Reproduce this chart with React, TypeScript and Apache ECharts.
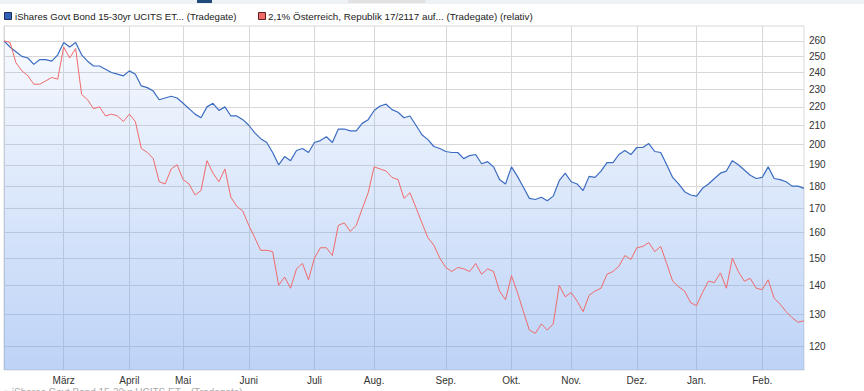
import React, { useEffect, useRef } from 'react';
import * as echarts from 'echarts';

// Month labels (first partial month has no label) and number of sampled trading days per month
const monthLabels = ['', 'März', 'April', 'Mai', 'Juni', 'Juli', 'Aug.', 'Sep.', 'Okt.', 'Nov.', 'Dez.', 'Jan.', 'Feb.'];
const pointsPerMonth = [10, 11, 9, 11, 11, 10, 12, 11, 10, 11, 10, 11, 8];

const yTicks = [120, 130, 140, 150, 160, 170, 180, 190, 200, 210, 220, 230, 240, 250, 260];

const etfName = 'iShares Govt Bond 15-30yr UCITS ET... (Tradegate)';
const bondName = '2,1% Österreich, Republik 17/2117 auf... (Tradegate) (relativ)';

const etfValues = [
  260, 256, 253, 250, 249, 245, 248, 248, 247, 251,
  259, 256, 259, 251, 247, 244, 244, 242, 240, 239, 238,
  241, 239, 232, 231, 229, 224, 225, 226, 225,
  222, 219, 216, 214, 220, 222, 218, 220, 215, 215, 213,
  210, 206, 203, 201, 196, 190, 194, 192, 197, 198, 196,
  201, 202, 204, 201, 208, 208, 207, 207, 211, 213,
  218, 220.5, 221.5, 218.5, 217, 214, 215, 210, 205, 202.5, 199, 198,
  196.5, 196, 196, 193, 194.5, 195, 190.5, 191.5, 189, 183, 181,
  189, 184.5, 179.5, 174.5, 174, 175, 173.5, 175.5, 182.5, 186,
  182, 181, 178, 184.5, 184, 187, 191, 191, 195, 197, 195,
  198.5, 198.5, 200.5, 196.5, 196, 190, 184, 181, 177.5, 176,
  175.5, 179, 181, 183.5, 186, 187, 192, 190, 187.5, 185, 183.5,
  184, 189, 183.5, 183, 182, 180, 180, 179,
];

const bondValues = [
  260, 259, 246, 241, 238, 233, 233, 235, 237, 236,
  256, 249, 255, 227, 224, 219, 220, 215, 216, 215, 212,
  216, 212, 198, 196, 193, 182, 181, 188, 190,
  183, 181, 176, 178, 192, 186, 182, 188, 175, 171, 169,
  163, 158, 153, 153, 152.5, 140, 143, 139, 146, 148, 142,
  150, 154, 154, 151, 163, 164, 160.5, 163, 170, 177,
  189, 188, 187, 184, 183, 174.5, 177, 170.5, 164, 158, 155, 150,
  146.5, 145, 146.5, 146, 145, 148, 144, 146, 145, 138, 135,
  143.5, 137.5, 131, 125, 124, 127, 125, 127, 140, 136,
  137.5, 134.5, 131, 136.5, 138, 139, 144, 145, 147, 151, 149.5,
  154, 154.5, 156, 152.5, 154.5, 148, 141.5, 139.5, 138, 134,
  133, 137.5, 141.5, 141, 144.5, 139, 150, 145, 141.5, 142.5, 139,
  138.5, 142, 135.5, 133.5, 131, 129, 127.5, 128,
];

const FONT = 'Liberation Sans';

export default function App() {
  const ref = useRef<HTMLDivElement>(null);

  useEffect(() => {
    if (!ref.current) return;
    const chart = echarts.init(ref.current, null, { renderer: 'svg' });

    const categories: string[] = [];
    monthLabels.forEach((m, mi) => {
      for (let k = 0; k < pointsPerMonth[mi]; k++) categories.push(`${m}#${k}`);
    });
    const isMonthStart = (_i: number, v: string) => v.endsWith('#0');
    const isLabeled = (_i: number, v: string) => v.endsWith('#0') && !v.startsWith('#');

    chart.setOption({
      animation: false,
      grid: {
        left: 4,
        right: 60,
        top: 26,
        bottom: 21,
        show: true,
        borderColor: '#d9d9d9',
        borderWidth: 1,
        backgroundColor: 'transparent',
      },
      xAxis: {
        type: 'category',
        data: categories,
        boundaryGap: false,
        axisLine: { show: false },
        axisTick: { show: false },
        axisLabel: {
          interval: isLabeled,
          formatter: (v: string) => v.split('#')[0],
          color: '#333',
          fontSize: 10,
          fontFamily: FONT,
          margin: 5,
        },
        splitLine: {
          show: true,
          interval: isMonthStart,
          lineStyle: { color: '#d8d8d8', width: 1 },
        },
      },
      yAxis: {
        type: 'log',
        position: 'right',
        min: 113,
        max: 270,
        axisLine: { show: false },
        axisTick: { show: false },
        axisLabel: { show: false },
        splitLine: { show: false },
      },
      series: [
        {
          name: etfName,
          type: 'line',
          data: etfValues,
          symbol: 'none',
          z: 3,
          lineStyle: { color: '#3b6cc2', width: 1.2 },
          areaStyle: {
            origin: 'start',
            opacity: 1,
            color: {
              type: 'linear',
              x: 0,
              y: 26,
              x2: 0,
              y2: 370,
              global: true,
              colorStops: [
                { offset: 0, color: 'rgba(108,157,237,0.04)' },
                { offset: 1, color: 'rgba(108,157,237,0.45)' },
              ],
            },
          },
          markLine: {
            silent: true,
            z: 1,
            symbol: ['none', 'none'],
            lineStyle: { color: '#d8d8d8', width: 1, type: 'solid' },
            label: {
              show: true,
              position: 'end',
              distance: 5,
              formatter: (p: any) => String(p.value),
              color: '#333',
              fontSize: 10,
              fontFamily: FONT,
            },
            emphasis: { disabled: true },
            data: yTicks.map((v) => ({ yAxis: v })),
          },
        },
        {
          name: bondName,
          type: 'line',
          data: bondValues,
          symbol: 'none',
          z: 4,
          lineStyle: { color: '#f06a6a', width: 1 },
        },
      ],
      graphic: [
        { type: 'rect', shape: { x: 0, y: 0, width: 864, height: 4 }, style: { fill: '#eef1f5' } },
        { type: 'rect', shape: { x: 197, y: 0, width: 15, height: 3 }, style: { fill: '#1f4a7a' } },
        { type: 'rect', shape: { x: 348, y: 0, width: 78, height: 3, r: 2 }, style: { fill: '#e2e2e2' } },
        {
          type: 'rect',
          shape: { x: 4.5, y: 12.5, width: 7, height: 7 },
          style: { fill: '#2f62b8', stroke: '#1a2d55', lineWidth: 1 },
        },
        {
          type: 'text',
          x: 15,
          y: 16.5,
          style: { text: etfName, fill: '#222', fontSize: 9.6, fontFamily: FONT, verticalAlign: 'middle' },
        },
        {
          type: 'rect',
          shape: { x: 258.5, y: 12.5, width: 7, height: 7 },
          style: { fill: '#f06a6a', stroke: '#5a2020', lineWidth: 1 },
        },
        {
          type: 'text',
          x: 268,
          y: 16.5,
          style: { text: bondName, fill: '#222', fontSize: 9.8, fontFamily: FONT, verticalAlign: 'middle' },
        },
        {
          type: 'text',
          x: 3,
          y: 387,
          style: { text: '■ ' + etfName, fill: '#aaa', fontSize: 10, fontFamily: FONT, verticalAlign: 'top' },
        },
      ],
    });

    return () => chart.dispose();
  }, []);

  return (
    <div
      ref={ref}
      style={{ position: 'fixed', left: 0, top: 0, width: 864, height: 391, background: '#fff' }}
    />
  );
}
